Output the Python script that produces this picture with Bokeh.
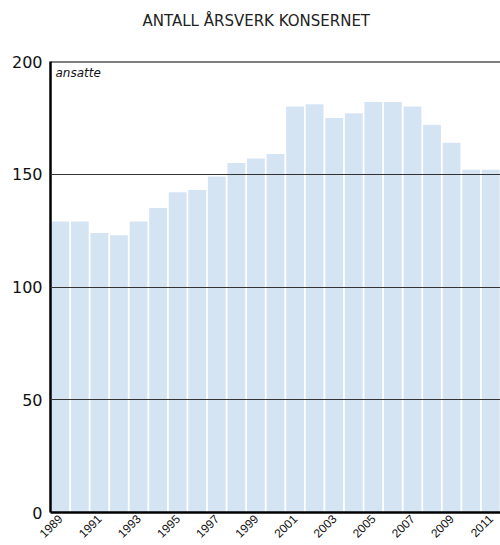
from bokeh.plotting import figure
from bokeh.models import FixedTicker, Span, Label, Range1d
from bokeh.embed import file_html
from bokeh.resources import INLINE
import math

years = list(range(1989, 2012))
values = [129, 129, 124, 123, 129, 135, 142, 143, 149, 155, 157, 159,
          180, 181, 175, 177, 182, 182, 180, 172, 164, 152, 152]
year_ticks = list(range(1989, 2012, 2))
y_ticks = [0, 50, 100, 150, 200]
title_text = "ANTALL ÅRSVERK KONSERNET"

p = figure(width=500, height=545, output_backend="svg", toolbar_location=None,
           x_range=Range1d(1988.5, 2011.5), y_range=Range1d(0, 200),
           min_border_left=50, min_border_right=0, min_border_top=61, min_border_bottom=33,
           title=title_text)
p.outline_line_color = None
p.background_fill_color = "white"

p.title.align = "left"
p.title.offset = 92
p.title.standoff = 0
p.title.text_font = "DejaVu Sans"
p.title.text_font_size = "15px"
p.title.text_font_style = "normal"
p.title.text_color = "#222222"
try:
    p.title.padding = dict(left=0, right=0, top=0, bottom=32)
except Exception:
    try:
        p.title.padding = (0, 0, 32, 0)
    except Exception:
        pass

p.vbar(x=years, top=values, width=0.91, fill_color="#d5e4f3", line_color=None)

# axes
p.xaxis.ticker = FixedTicker(ticks=year_ticks)
p.xaxis.major_label_orientation = math.pi / 4
p.xaxis.major_label_text_font = "Liberation Sans"
p.xaxis.major_label_text_font_size = "12px"
p.xaxis.major_label_text_color = "#111111"
p.xaxis.major_tick_line_color = None
p.xaxis.major_tick_out = 0
p.xaxis.minor_tick_line_color = None
p.xaxis.axis_line_width = 2.5
p.xaxis.axis_line_color = "black"
p.xaxis.major_label_standoff = 4

p.yaxis.ticker = FixedTicker(ticks=y_ticks)
p.yaxis.major_label_text_font = "DejaVu Sans"
p.yaxis.major_label_text_font_size = "16px"
p.yaxis.major_label_text_color = "#111111"
p.yaxis.major_tick_line_color = None
p.yaxis.major_tick_out = 0
p.yaxis.minor_tick_line_color = None
p.yaxis.axis_line_width = 2.5
p.yaxis.axis_line_color = "black"
p.yaxis.major_label_standoff = 8

p.xgrid.grid_line_color = None
p.ygrid.ticker = FixedTicker(ticks=[50, 100, 150])
p.ygrid.grid_line_color = "#333333"
p.ygrid.grid_line_width = 1.2
p.ygrid.level = "annotation"

top_line = Span(location=200, dimension="width", line_color="black", line_width=2)
p.add_layout(top_line)

lbl = Label(x=1988.5, y=200, text="ansatte", x_offset=5, y_offset=-4,
            text_baseline="top", text_font="DejaVu Sans", text_font_size="12px",
            text_font_style="italic", text_color="#111111")
p.add_layout(lbl)

open("out.html", "w").write(file_html(p, INLINE))
